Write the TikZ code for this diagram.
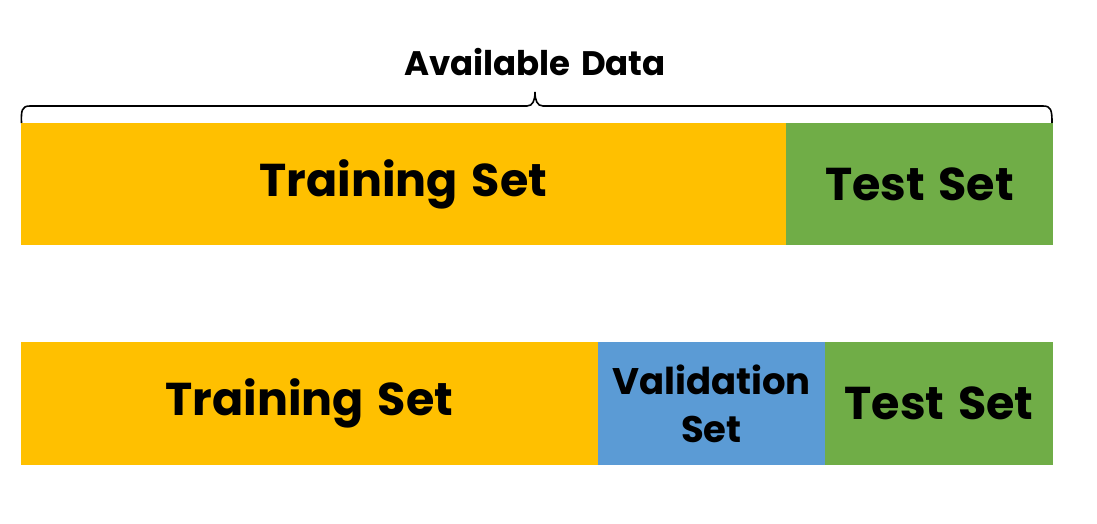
\documentclass[tikz,border=0pt]{standalone}
\usepackage{fontspec}
\setmainfont{Poppins}[BoldFont={* Bold}]
\definecolor{cOrange}{HTML}{FFC000}
\definecolor{cGreen}{HTML}{70AD47}
\definecolor{cBlue}{HTML}{5B9BD5}
\tikzset{
  seg/.style={draw=none, inner sep=0pt, outer sep=0pt, anchor=north west, align=center, font=\bfseries\fontsize{46}{46}\selectfont},
}
\begin{document}
\begin{tikzpicture}[x=1pt,y=-1pt]
\useasboundingbox (0,0) rectangle (1097,524);
% top bar
\node[seg, fill=cOrange, minimum width=765pt, minimum height=122pt] (train1) at (21,123) {\raisebox{-6pt}{Training\hspace{4pt} Set}};
\node[seg, fill=cGreen, minimum width=267pt, minimum height=122pt] (test1) at (786,123) {Test\hspace{4pt} Set};
% bottom bar
\node[seg, fill=cOrange, minimum width=577pt, minimum height=123pt] (train2) at (21,342) {\raisebox{-5pt}{Training\hspace{4pt} Set}};
\node[seg, fill=cBlue, minimum width=227pt, minimum height=123pt, font=\bfseries\fontsize{37}{48}\selectfont] (val2) at (598,342) {Validation\\Set};
\node[seg, fill=cGreen, minimum width=228pt, minimum height=123pt] (test2) at (825,342) {Test\hspace{4pt} Set};
% brace
\coordinate (bl) at (train1.north west);
\coordinate (br) at (test1.north east);
\draw[line width=1.6pt] ([xshift=0.5pt]bl) .. controls (21,110) and (22,106) .. (30,106) -- (527,106) .. controls (533,106) and (535,100) .. (535,92) .. controls (535,100) and (537,106) .. (543,106) -- (1043,106) .. controls (1051,106) and (1052,110) .. ([xshift=-1pt]br);
\node[font=\bfseries\fontsize{34}{34}\selectfont, inner sep=0pt] (avail) at (535,62) {Available\hspace{3pt} Data};
\end{tikzpicture}
\end{document}
